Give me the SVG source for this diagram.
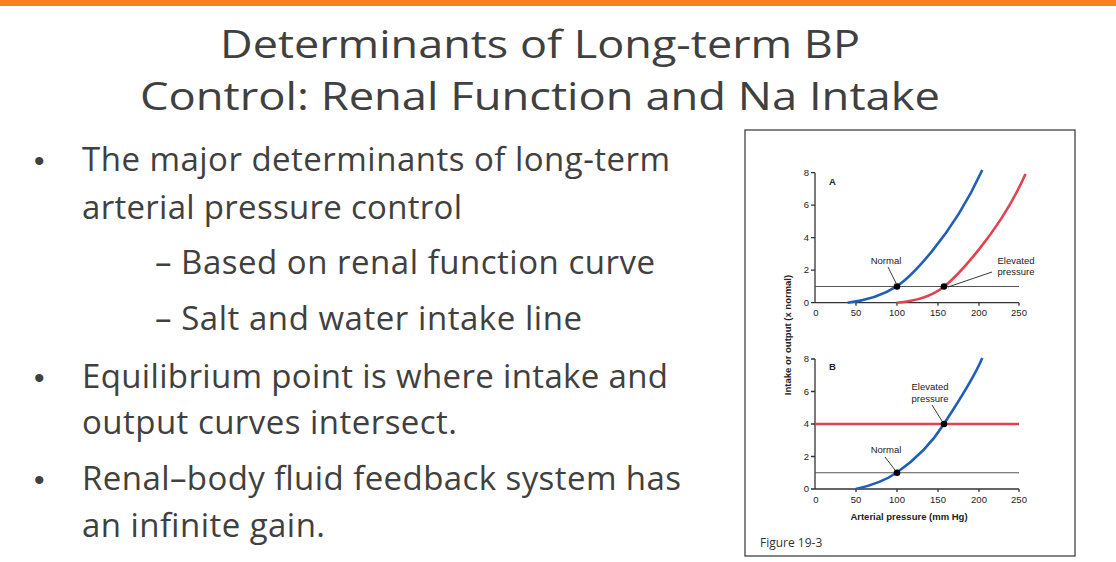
<svg xmlns="http://www.w3.org/2000/svg" width="1116" height="562" viewBox="0 0 1116 562">
<style>
.t{font-family:"Open Sans","Liberation Sans",sans-serif;fill:#404040}
.b{font-family:"Liberation Sans",sans-serif;fill:#404040;font-size:30px}
.s{font-family:"Liberation Sans",Arial,sans-serif;font-size:9.5px;fill:#222}
.ax{stroke:#333;stroke-width:1.3;fill:none}
.ln{stroke:#555;stroke-width:1.2}
.blue{stroke:#1f5fb5;stroke-width:2.6;fill:none;stroke-linejoin:round}
.red{stroke:#e0424f;stroke-width:2.6;fill:none;stroke-linejoin:round}
.ld{stroke:#222;stroke-width:0.9}
</style>
<rect width="1116" height="562" fill="#fff"/>
<rect width="1116" height="6" fill="#F58220"/>
<g class="t" font-size="39">
<text x="220" y="58" textLength="640" lengthAdjust="spacingAndGlyphs">Determinants of Long-term BP</text>
<text x="140" y="110" textLength="800" lengthAdjust="spacingAndGlyphs">Control: Renal Function and Na Intake</text>
</g>
<g class="t" font-size="33" lengthAdjust="spacingAndGlyphs">
<text x="82" y="171" textLength="588">The major determinants of long-term</text>
<text x="82" y="219" textLength="380">arterial pressure control</text>
<text x="155" y="274" textLength="500">– Based on renal function curve</text>
<text x="155" y="330" textLength="427">– Salt and water intake line</text>
<text x="82" y="388" textLength="586">Equilibrium point is where intake and</text>
<text x="82" y="434" textLength="375">output curves intersect.</text>
<text x="82" y="490" textLength="599">Renal–body fluid feedback system has</text>
<text x="82" y="537" textLength="243">an infinite gain.</text>
</g>
<g class="b"><text x="34" y="171">•</text><text x="34" y="388">•</text><text x="34" y="490">•</text></g>
<g id="figure">
<rect x="745" y="130" width="330" height="426" fill="#fff" stroke="#333" stroke-width="1.2"/>
<text x="760" y="547" font-family="Open Sans,Liberation Sans,sans-serif" font-size="12" fill="#333">Figure 19-3</text>
<text transform="translate(791,335) rotate(-90)" class="s" font-weight="bold" text-anchor="middle">Intake or output (x normal)</text>
<g id="chartA">
<path class="ax" d="M815,172.7V302.7H1019M811,172.7H815M811,205.2H815M811,237.7H815M811,270.2H815M811,302.7H815M856,302.7v3M897,302.7v3M938,302.7v3M979,302.7v3M1019,302.7v3"/>
<g class="s" text-anchor="end"><text x="809" y="176">8</text><text x="809" y="208">6</text><text x="809" y="241">4</text><text x="809" y="273">2</text><text x="809" y="306">0</text></g>
<g class="s" text-anchor="middle"><text x="816" y="316">0</text><text x="856" y="316">50</text><text x="897" y="316">100</text><text x="938" y="316">150</text><text x="979" y="316">200</text><text x="1019" y="316">250</text></g>
<text x="829" y="185" class="s" font-size="11" font-weight="bold">A</text>
<line class="ln" x1="815" y1="286.5" x2="1019" y2="286.5"/>
<path class="blue" d="M847.6,302.7 C870,300 885,294 896.6,286.4 S950,240 982.3,170"/>
<path class="red" d="M896.6,302.7 C918,301 932,296 943.9,286.7 S1000,232 1025.5,174"/>
<circle cx="897" cy="286.5" r="3.3"/><circle cx="944" cy="286.5" r="3.3"/>
<text x="886" y="264" class="s" text-anchor="middle">Normal</text>
<line class="ld" x1="888" y1="267" x2="896" y2="283"/>
<text x="1016" y="264" class="s" text-anchor="middle">Elevated</text>
<text x="1016" y="275" class="s" text-anchor="middle">pressure</text>
<line class="ld" x1="992" y1="272" x2="948" y2="287"/>
</g>
<g id="chartB">
<path class="ax" d="M815,359V489H1019M811,359H815M811,391.5H815M811,424H815M811,456.5H815M811,489H815M856,489v3M897,489v3M938,489v3M979,489v3M1019,489v3"/>
<g class="s" text-anchor="end"><text x="809" y="362">8</text><text x="809" y="395">6</text><text x="809" y="427">4</text><text x="809" y="460">2</text><text x="809" y="492">0</text></g>
<g class="s" text-anchor="middle"><text x="816" y="503">0</text><text x="856" y="503">50</text><text x="897" y="503">100</text><text x="938" y="503">150</text><text x="979" y="503">200</text><text x="1019" y="503">250</text></g>
<text x="829" y="370" class="s" font-size="11" font-weight="bold">B</text>
<text x="909" y="520" class="s" font-weight="bold" text-anchor="middle">Arterial pressure (mm Hg)</text>
<line class="ln" x1="815" y1="472.75" x2="1019" y2="472.75"/>
<line class="red" x1="815" y1="424" x2="1019" y2="424"/>
<path class="blue" d="M855.8,489 C874,485 886,480 896.6,472.75 C915,460 930,446 943.9,424 S972,382 982.3,358"/>
<circle cx="897" cy="472.75" r="3.3"/><circle cx="944" cy="424" r="3.3"/>
<text x="930" y="390" class="s" text-anchor="middle">Elevated</text>
<text x="930" y="402" class="s" text-anchor="middle">pressure</text>
<line class="ld" x1="932" y1="405" x2="942" y2="421"/>
<text x="886" y="453" class="s" text-anchor="middle">Normal</text>
<line class="ld" x1="885" y1="457" x2="895" y2="470"/>
</g>
</g>
</svg>
